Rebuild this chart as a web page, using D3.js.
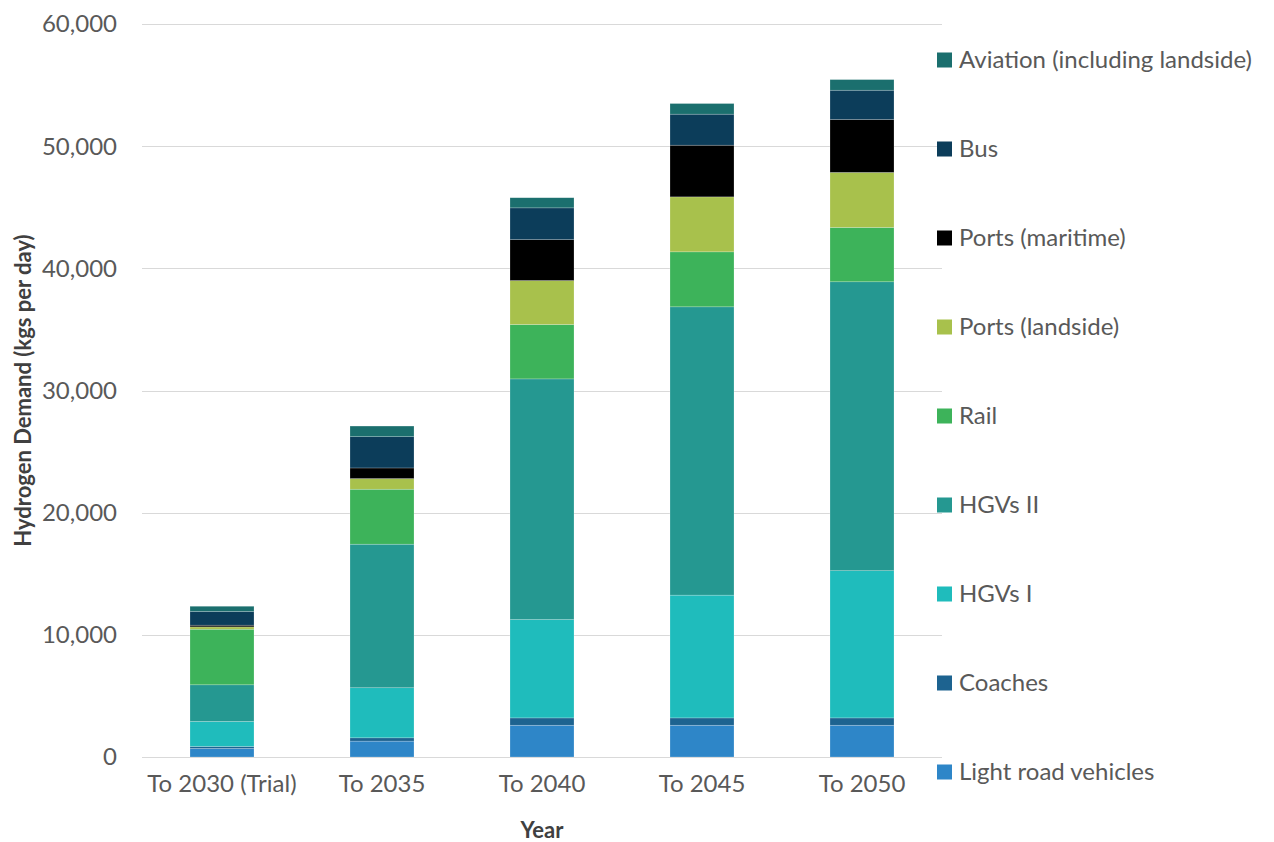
<!DOCTYPE html>
<html lang="en">
<head>
<meta charset="UTF-8">
<title>Hydrogen Demand</title>
<script src="https://cdn.jsdelivr.net/npm/d3@7"></script>
<style>
  body { margin: 0; background: #fff; }
  svg { font-family: Lato, "Open Sans", sans-serif; }
  .grid line { stroke: #d9d9d9; stroke-width: 1; shape-rendering: crispEdges; }
  .grid path { stroke-width: 0; }
</style>
</head>
<body>
<script>
// categories and series (kgs per day)
const years = ["To 2030 (Trial)", "To 2035", "To 2040", "To 2045", "To 2050"];
const seriesNames = ["Light road vehicles", "Coaches", "HGVs I", "HGVs II", "Rail",
  "Ports (landside)", "Ports (maritime)", "Bus", "Aviation (including landside)"];
const lightRoad   = [700, 1300, 2600, 2600, 2600];
const coaches     = [160, 270, 600, 600, 600];
const hgvs1       = [2050, 4100, 8050, 10050, 12050];
const hgvs2       = [3000, 11750, 19700, 23600, 23650];
const rail        = [4550, 4500, 4450, 4500, 4450];
const portsLand   = [190, 870, 3600, 4500, 4500];
const portsMarine = [140, 870, 3350, 4230, 4330];
const bus         = [1120, 2560, 2600, 2540, 2400];
const aviation    = [430, 870, 830, 870, 870];
const yTicks = [0, 10000, 20000, 30000, 40000, 50000, 60000];

const colors = ["#2e86c8", "#1d6390", "#1fbcbc", "#259891", "#3db35a",
  "#a8c14c", "#000000", "#0c3d5a", "#1b6f6e"];

const allSeries = [lightRoad, coaches, hgvs1, hgvs2, rail, portsLand, portsMarine, bus, aviation];

// table for d3.stack
const rows = years.map((yr, i) => {
  const r = { year: yr };
  seriesNames.forEach((s, k) => { r[s] = allSeries[k][i]; });
  return r;
});

const W = 1274, H = 842;
const svg = d3.select("body").append("svg")
  .attr("width", W).attr("height", H);

const plot = { left: 142, right: 942, top: 24, bottom: 757 };

const x = d3.scaleBand()
  .domain(years)
  .range([plot.left, plot.right])
  .paddingInner(0.6)
  .paddingOuter(0.3);

const y = d3.scaleLinear()
  .domain([0, 60000])
  .range([plot.bottom, plot.top]);

const color = d3.scaleOrdinal().domain(seriesNames).range(colors);

// gridlines
svg.append("g")
  .attr("class", "grid")
  .attr("transform", `translate(${plot.left},0)`)
  .call(d3.axisLeft(y).tickValues(yTicks).tickSize(-(plot.right - plot.left)).tickFormat(""));

// y tick labels
svg.append("g")
  .selectAll("text")
  .data(yTicks)
  .join("text")
  .attr("x", 117)
  .attr("y", d => y(d))
  .attr("dy", "0.35em")
  .attr("text-anchor", "end")
  .attr("fill", "#595959")
  .style("font-size", "24px")
  .text(d => d3.format(",")(d));

// stacked bars
const stacked = d3.stack().keys(seriesNames)(rows);

svg.append("g")
  .selectAll("g")
  .data(stacked)
  .join("g")
  .attr("fill", d => color(d.key))
  .selectAll("rect")
  .data(d => d)
  .join("rect")
  .attr("x", d => x(d.data.year))
  .attr("width", x.bandwidth())
  .attr("y", d => y(d[1]))
  .attr("height", d => y(d[0]) - y(d[1]))
  .attr("stroke", "#ffffff")
  .attr("stroke-opacity", 0.35)
  .attr("stroke-width", 0.6);

// x labels
svg.append("g")
  .selectAll("text")
  .data(years)
  .join("text")
  .attr("x", d => x(d) + x.bandwidth() / 2)
  .attr("y", 792)
  .attr("text-anchor", "middle")
  .attr("fill", "#595959")
  .style("font-size", "24px")
  .text(d => d);

// axis titles
svg.append("text")
  .attr("x", 542)
  .attr("y", 838)
  .attr("text-anchor", "middle")
  .attr("fill", "#404040")
  .style("font-size", "22px")
  .style("font-weight", "bold")
  .text("Year");

svg.append("text")
  .attr("transform", `translate(31,${(plot.top + plot.bottom) / 2}) rotate(-90)`)
  .attr("text-anchor", "middle")
  .attr("fill", "#404040")
  .style("font-size", "22px")
  .style("font-weight", "bold")
  .text("Hydrogen Demand (kgs per day)");

// legend, top item is the last series
const legendItems = seriesNames.slice().reverse();
const legend = svg.append("g")
  .selectAll("g")
  .data(legendItems)
  .join("g")
  .attr("transform", (d, i) => `translate(937,${60 + i * 89})`);

legend.append("rect")
  .attr("y", -7.5)
  .attr("width", 15)
  .attr("height", 15)
  .attr("fill", d => color(d));

legend.append("text")
  .attr("x", 22)
  .attr("dy", "0.35em")
  .attr("fill", "#595959")
  .style("font-size", "24px")
  .text(d => d);
</script>
</body>
</html>
